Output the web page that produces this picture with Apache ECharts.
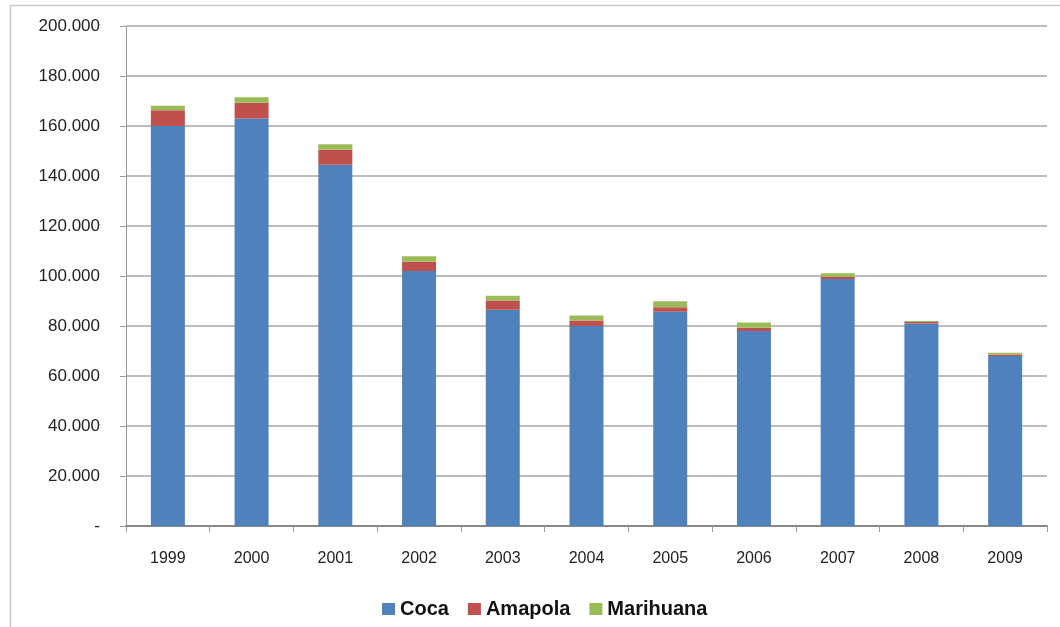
<!DOCTYPE html>
<html>
<head>
<meta charset="utf-8">
<script src="https://cdn.jsdelivr.net/npm/echarts@6/dist/echarts.min.js"></script>
<style>
  html, body { margin: 0; padding: 0; background: #fff; }
  #chart { width: 1060px; height: 627px; }
</style>
</head>
<body>
<div id="chart"></div>
<script>
const years = ["1999", "2000", "2001", "2002", "2003", "2004", "2005", "2006", "2007", "2008", "2009"];
const coca = [160000, 163000, 144500, 102000, 86500, 80000, 85700, 78000, 98800, 81000, 68000];
const amapola = [6300, 6300, 6000, 3700, 3700, 2200, 1800, 1300, 900, 600, 600];
const marihuana = [1800, 2200, 2200, 2200, 1900, 2000, 2400, 2100, 1400, 400, 700];

const chart = echarts.init(document.getElementById("chart"));

// eje y estilo "200.000" y "-" para el cero
const fmtMiles = (v) => (v === 0 ? "-" : v.toLocaleString("de-DE"));

const barSeries = (name, data, color) => ({
  name,
  type: "bar",
  stack: "total",
  data,
  barWidth: 34,
  itemStyle: { color },
});

chart.setOption({
  animation: false,
  textStyle: { fontFamily: "Liberation Sans, Arial, sans-serif" },
  graphic: [
    {
      type: "rect",
      shape: { x: 10.5, y: 5.5, width: 1100, height: 700 },
      style: { fill: "none", stroke: "#c8c8c8", lineWidth: 1.5 },
      z: -1,
    },
  ],
  grid: { left: 126, right: 13, top: 26, bottom: 101 },
  legend: {
    data: ["Coca", "Amapola", "Marihuana"],
    left: 377,
    top: 594,
    itemWidth: 13,
    itemHeight: 12,
    itemGap: 19,
    icon: "rect",
    textStyle: { fontSize: 20, fontWeight: "bold", color: "#111" },
  },
  xAxis: {
    type: "category",
    data: years,
    axisLine: { lineStyle: { color: "#888", width: 2 } },
    axisTick: { show: true, length: 6, lineStyle: { color: "#999" } },
    axisLabel: { fontSize: 16, color: "#222", margin: 25 },
  },
  yAxis: {
    type: "value",
    min: 0,
    max: 200000,
    interval: 20000,
    axisLine: { show: true, lineStyle: { color: "#999", width: 1 } },
    axisTick: { show: true, inside: false, length: 6, lineStyle: { color: "#999" } },
    axisLabel: { fontSize: 17, color: "#222", margin: 26, formatter: fmtMiles },
    splitLine: { lineStyle: { color: "#a6a6a6", width: 1.5 } },
  },
  series: [
    barSeries("Coca", coca, "#4f81bd"),
    barSeries("Amapola", amapola, "#c0504d"),
    barSeries("Marihuana", marihuana, "#9bbb59"),
  ],
});
</script>
</body>
</html>
